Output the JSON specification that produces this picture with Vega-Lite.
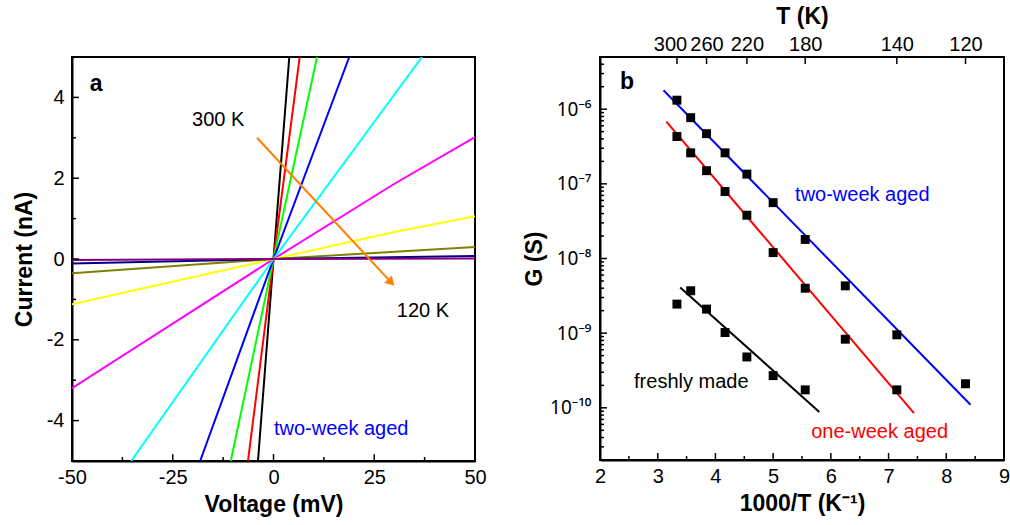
{
  "$schema": "https://vega.github.io/schema/vega-lite/v6.json",
  "padding": {"left": 12, "top": 4, "right": 5, "bottom": 5},
  "background": "white",
  "config": {
    "font": "Liberation Sans",
    "view": {"stroke": "black", "strokeWidth": 2},
    "axis": {
      "grid": false,
      "ticks": false,
      "zindex": 1,
      "labelFlush": false,
      "labelOverlap": false,
      "domainColor": "black",
      "domainWidth": 2,
      "labelFont": "Liberation Sans",
      "labelFontSize": 20,
      "labelColor": "black",
      "titleFont": "Liberation Sans",
      "titleFontSize": 23,
      "titleFontWeight": "bold",
      "titleColor": "black"
    }
  },
  "resolve": {"scale": {"color": "independent"}},
  "bounds": "flush",
  "spacing": 125,
  "datasets": {
    "iv": [
      {"T": "300 K", "V": -3.85, "I": -5}, {"T": "300 K", "V": 0, "I": 0}, {"T": "300 K", "V": 3.92, "I": 5},
      {"T": "280 K", "V": -6.33, "I": -5}, {"T": "280 K", "V": 0, "I": 0}, {"T": "280 K", "V": 6.5, "I": 5},
      {"T": "260 K", "V": -10.6, "I": -5}, {"T": "260 K", "V": 0, "I": 0}, {"T": "260 K", "V": 10.8, "I": 5},
      {"T": "240 K", "V": -18.2, "I": -5}, {"T": "240 K", "V": 0, "I": 0}, {"T": "240 K", "V": 18.8, "I": 5},
      {"T": "220 K", "V": -35.3, "I": -5}, {"T": "220 K", "V": 0, "I": 0}, {"T": "220 K", "V": 36.85, "I": 5},
      {"T": "200 K", "V": -50, "I": -3.2}, {"T": "200 K", "V": 0, "I": 0}, {"T": "200 K", "V": 29.8, "I": 1.85}, {"T": "200 K", "V": 50, "I": 3.02},
      {"T": "180 K", "V": -50, "I": -1.12}, {"T": "180 K", "V": 0, "I": 0}, {"T": "180 K", "V": 30, "I": 0.67}, {"T": "180 K", "V": 50, "I": 1.06},
      {"T": "160 K", "V": -50, "I": -0.35}, {"T": "160 K", "V": 0, "I": 0}, {"T": "160 K", "V": 50, "I": 0.30},
      {"T": "140 K", "V": -50, "I": -0.11}, {"T": "140 K", "V": 0, "I": 0}, {"T": "140 K", "V": 50, "I": 0.074},
      {"T": "120 K", "V": -50, "I": -0.025}, {"T": "120 K", "V": 0, "I": 0}, {"T": "120 K", "V": 50, "I": 0.01}
    ],
    "arrow": [{"V": -4.1, "I": 3.0}, {"V": 29.2, "I": -0.58}],
    "arrowhead": [{"V": 29.2, "I": -0.58}],
    "labelsA": [{"label": "300 K", "V": -20.2, "I": 3.44}, {"label": "120 K", "V": 30.6, "I": -1.29}],
    "labelsAblue": [{"label": "two-week aged", "V": 0.1, "I": -4.2}],
    "panelA": [{"label": "a", "V": -44.0, "I": 4.33}],
    "ticksAx": [
      {"V": -25, "k": "M"}, {"V": 0, "k": "M"}, {"V": 25, "k": "M"},
      {"V": -37.5, "k": "m"}, {"V": -12.5, "k": "m"}, {"V": 12.5, "k": "m"}, {"V": 37.5, "k": "m"}
    ],
    "ticksAy": [
      {"I": -4, "k": "M"}, {"I": -2, "k": "M"}, {"I": 0, "k": "M"}, {"I": 2, "k": "M"}, {"I": 4, "k": "M"},
      {"I": -3, "k": "m"}, {"I": -1, "k": "m"}, {"I": 1, "k": "m"}, {"I": 3, "k": "m"}
    ],
    "ticksBx": [
      {"invT": 3, "k": "M"}, {"invT": 4, "k": "M"}, {"invT": 5, "k": "M"}, {"invT": 6, "k": "M"}, {"invT": 7, "k": "M"}, {"invT": 8, "k": "M"},
      {"invT": 2.5, "k": "m"}, {"invT": 3.5, "k": "m"}, {"invT": 4.5, "k": "m"}, {"invT": 5.5, "k": "m"}, {"invT": 6.5, "k": "m"}, {"invT": 7.5, "k": "m"}, {"invT": 8.5, "k": "m"}
    ],
    "ticksBtop": [
      {"invT": 3.3333333}, {"invT": 3.8461538}, {"invT": 4.5454545}, {"invT": 5.5555556}, {"invT": 7.1428571}, {"invT": 8.3333333}
    ],
    "ticksBy": [
      {"G": 1e-10, "k": "M"}, {"G": 1e-9, "k": "M"}, {"G": 1e-8, "k": "M"}, {"G": 1e-7, "k": "M"}, {"G": 1e-6, "k": "M"},
      {"G": 3e-11, "k": "m"}, {"G": 4e-11, "k": "m"}, {"G": 5e-11, "k": "m"}, {"G": 6e-11, "k": "m"}, {"G": 7e-11, "k": "m"}, {"G": 8e-11, "k": "m"}, {"G": 9e-11, "k": "m"},
      {"G": 2e-10, "k": "m"}, {"G": 3e-10, "k": "m"}, {"G": 4e-10, "k": "m"}, {"G": 5e-10, "k": "m"}, {"G": 6e-10, "k": "m"}, {"G": 7e-10, "k": "m"}, {"G": 8e-10, "k": "m"}, {"G": 9e-10, "k": "m"},
      {"G": 2e-9, "k": "m"}, {"G": 3e-9, "k": "m"}, {"G": 4e-9, "k": "m"}, {"G": 5e-9, "k": "m"}, {"G": 6e-9, "k": "m"}, {"G": 7e-9, "k": "m"}, {"G": 8e-9, "k": "m"}, {"G": 9e-9, "k": "m"},
      {"G": 2e-8, "k": "m"}, {"G": 3e-8, "k": "m"}, {"G": 4e-8, "k": "m"}, {"G": 5e-8, "k": "m"}, {"G": 6e-8, "k": "m"}, {"G": 7e-8, "k": "m"}, {"G": 8e-8, "k": "m"}, {"G": 9e-8, "k": "m"},
      {"G": 2e-7, "k": "m"}, {"G": 3e-7, "k": "m"}, {"G": 4e-7, "k": "m"}, {"G": 5e-7, "k": "m"}, {"G": 6e-7, "k": "m"}, {"G": 7e-7, "k": "m"}, {"G": 8e-7, "k": "m"}, {"G": 9e-7, "k": "m"},
      {"G": 2e-6, "k": "m"}, {"G": 3e-6, "k": "m"}, {"G": 4e-6, "k": "m"}
    ],
    "G": [
      {"sample": "two-week aged", "invT": 3.333, "G": 1.32e-6},
      {"sample": "two-week aged", "invT": 3.571, "G": 7.7e-7},
      {"sample": "two-week aged", "invT": 3.846, "G": 4.7e-7},
      {"sample": "two-week aged", "invT": 4.167, "G": 2.6e-7},
      {"sample": "two-week aged", "invT": 4.545, "G": 1.35e-7},
      {"sample": "two-week aged", "invT": 5.0, "G": 5.6e-8},
      {"sample": "two-week aged", "invT": 5.556, "G": 1.8e-8},
      {"sample": "two-week aged", "invT": 6.25, "G": 4.3e-9},
      {"sample": "two-week aged", "invT": 7.143, "G": 9.5e-10},
      {"sample": "two-week aged", "invT": 8.333, "G": 2.1e-10},
      {"sample": "one-week aged", "invT": 3.333, "G": 4.3e-7},
      {"sample": "one-week aged", "invT": 3.571, "G": 2.6e-7},
      {"sample": "one-week aged", "invT": 3.846, "G": 1.5e-7},
      {"sample": "one-week aged", "invT": 4.167, "G": 7.9e-8},
      {"sample": "one-week aged", "invT": 4.545, "G": 3.8e-8},
      {"sample": "one-week aged", "invT": 5.0, "G": 1.2e-8},
      {"sample": "one-week aged", "invT": 5.556, "G": 4.0e-9},
      {"sample": "one-week aged", "invT": 6.25, "G": 8.3e-10},
      {"sample": "one-week aged", "invT": 7.143, "G": 1.74e-10},
      {"sample": "freshly made", "invT": 3.333, "G": 2.45e-9},
      {"sample": "freshly made", "invT": 3.571, "G": 3.7e-9},
      {"sample": "freshly made", "invT": 3.846, "G": 2.1e-9},
      {"sample": "freshly made", "invT": 4.167, "G": 1.02e-9},
      {"sample": "freshly made", "invT": 4.545, "G": 4.8e-10},
      {"sample": "freshly made", "invT": 5.0, "G": 2.7e-10},
      {"sample": "freshly made", "invT": 5.556, "G": 1.74e-10}
    ],
    "fits": [
      {"sample": "two-week aged", "invT": 3.10, "G": 1.79e-6},
      {"sample": "two-week aged", "invT": 8.42, "G": 1.1e-10},
      {"sample": "one-week aged", "invT": 3.15, "G": 6.8e-7},
      {"sample": "one-week aged", "invT": 7.44, "G": 8.5e-11},
      {"sample": "freshly made", "invT": 3.39, "G": 4.1e-9},
      {"sample": "freshly made", "invT": 5.80, "G": 8.8e-11}
    ],
    "labelsB": [
      {"sample": "two-week aged", "invT": 5.38, "G": 7.0e-8},
      {"sample": "one-week aged", "invT": 5.66, "G": 4.7e-11},
      {"sample": "freshly made", "invT": 2.59, "G": 2.24e-10}
    ],
    "panelB": [{"label": "b", "invT": 2.47, "G": 2.3e-6}]
  },
  "hconcat": [
    {
      "width": 403,
      "height": 404,
      "encoding": {
        "x": {"type": "quantitative", "scale": {"domain": [-50, 50], "nice": false, "zero": false}},
        "y": {"type": "quantitative", "scale": {"domain": [-5, 5], "nice": false, "zero": false}}
      },
      "layer": [
        {
          "data": {"name": "iv"},
          "mark": {"type": "line", "strokeWidth": 2, "clip": true},
          "encoding": {
            "x": {"field": "V", "type": "quantitative",
              "axis": {"values": [-50, -25, 0, 25, 50], "title": "Voltage (mV)", "labelPadding": 6, "titlePadding": 6, "orient": "bottom",
                "labelExpr": "datum.value < 0 ? '-' + (-datum.value) : '' + datum.value"}},
            "y": {"field": "I", "type": "quantitative",
              "axis": {"values": [-4, -2, 0, 2, 4], "title": "Current (nA)", "labelPadding": 8, "titlePadding": 10, "orient": "left",
                "labelExpr": "datum.value < 0 ? '-' + (-datum.value) : '' + datum.value"}},
            "color": {"field": "T", "type": "nominal", "legend": null,
              "scale": {
                "domain": ["120 K", "140 K", "160 K", "180 K", "200 K", "220 K", "240 K", "260 K", "280 K", "300 K"],
                "range": ["#800080", "#000080", "#808000", "#FFFF00", "#FF00FF", "#00FFFF", "#0000FF", "#00FF00", "#FF0000", "#000000"]}}
          }
        },
        {
          "data": {"name": "arrow"},
          "mark": {"type": "line", "color": "#FF8000", "strokeWidth": 2},
          "encoding": {
            "x": {"field": "V", "type": "quantitative"},
            "y": {"field": "I", "type": "quantitative"}
          }
        },
        {
          "data": {"name": "arrowhead"},
          "mark": {"type": "point", "shape": "triangle-right", "filled": true, "color": "#FF8000", "size": 110, "angle": 47, "opacity": 1},
          "encoding": {
            "x": {"field": "V", "type": "quantitative"},
            "y": {"field": "I", "type": "quantitative"}
          }
        },
        {
          "data": {"name": "ticksAx"},
          "transform": [{"filter": "datum.k == 'M'"}],
          "mark": {"type": "rule", "strokeWidth": 1.5, "color": "black"},
          "encoding": {
            "x": {"field": "V", "type": "quantitative"},
            "y": {"datum": -5},
            "y2": {"datum": -4.83}
          }
        },
        {
          "data": {"name": "ticksAx"},
          "transform": [{"filter": "datum.k == 'm'"}],
          "mark": {"type": "rule", "strokeWidth": 1.5, "color": "black"},
          "encoding": {
            "x": {"field": "V", "type": "quantitative"},
            "y": {"datum": -5},
            "y2": {"datum": -4.9}
          }
        },
        {
          "data": {"name": "ticksAy"},
          "transform": [{"filter": "datum.k == 'M'"}],
          "mark": {"type": "rule", "strokeWidth": 1.5, "color": "black"},
          "encoding": {
            "y": {"field": "I", "type": "quantitative"},
            "x": {"datum": -50},
            "x2": {"datum": -48.26}
          }
        },
        {
          "data": {"name": "ticksAy"},
          "transform": [{"filter": "datum.k == 'm'"}],
          "mark": {"type": "rule", "strokeWidth": 1.5, "color": "black"},
          "encoding": {
            "y": {"field": "I", "type": "quantitative"},
            "x": {"datum": -50},
            "x2": {"datum": -49.0}
          }
        },
        {
          "data": {"name": "labelsA"},
          "mark": {"type": "text", "align": "left", "baseline": "middle", "fontSize": 20, "color": "black"},
          "encoding": {
            "x": {"field": "V", "type": "quantitative"},
            "y": {"field": "I", "type": "quantitative"},
            "text": {"field": "label"}
          }
        },
        {
          "data": {"name": "labelsAblue"},
          "mark": {"type": "text", "align": "left", "baseline": "middle", "fontSize": 20, "color": "#0000FF"},
          "encoding": {
            "x": {"field": "V", "type": "quantitative"},
            "y": {"field": "I", "type": "quantitative"},
            "text": {"field": "label"}
          }
        },
        {
          "data": {"name": "panelA"},
          "mark": {"type": "text", "align": "center", "baseline": "middle", "fontSize": 23, "fontWeight": "bold", "color": "black"},
          "encoding": {
            "x": {"field": "V", "type": "quantitative"},
            "y": {"field": "I", "type": "quantitative"},
            "text": {"field": "label"}
          }
        }
      ]
    },
    {
      "width": 404,
      "height": 403,
      "resolve": {"axis": {"x": "independent"}},
      "layer": [
        {
          "data": {"name": "fits"},
          "mark": {"type": "line", "strokeWidth": 2, "clip": true},
          "encoding": {
            "x": {"field": "invT", "type": "quantitative",
              "scale": {"domain": [2, 9], "nice": false, "zero": false},
              "axis": {"values": [2, 3, 4, 5, 6, 7, 8, 9], "title": "1000/T (K⁻¹)", "labelPadding": 6, "titlePadding": 6, "orient": "bottom"}},
            "y": {"field": "G", "type": "quantitative",
              "scale": {"type": "log", "domain": [2e-11, 5e-6], "nice": false},
              "axis": {"values": [1e-10, 1e-9, 1e-8, 1e-7, 1e-6], "title": "G (S)", "labelPadding": 9, "titlePadding": 3, "orient": "left",
                "labelFont": "Noto Sans", "labelFontSize": 19,
                "labelExpr": "datum.value < 3e-10 ? '10⁻¹⁰' : datum.value < 3e-9 ? '10⁻⁹' : datum.value < 3e-8 ? '10⁻⁸' : datum.value < 3e-7 ? '10⁻⁷' : '10⁻⁶'"}},
            "color": {"field": "sample", "type": "nominal", "legend": null,
              "scale": {"domain": ["two-week aged", "one-week aged", "freshly made"], "range": ["#0000FF", "#FF0000", "#000000"]}}
          }
        },
        {
          "data": {"name": "G"},
          "mark": {"type": "point", "shape": "square", "filled": true, "color": "black", "size": 80, "opacity": 1},
          "encoding": {
            "x": {"field": "invT", "type": "quantitative", "axis": null},
            "y": {"field": "G", "type": "quantitative"}
          }
        },
        {
          "data": {"name": "ticksBx"},
          "transform": [{"filter": "datum.k == 'M'"}],
          "mark": {"type": "rule", "strokeWidth": 1.5, "color": "black"},
          "encoding": {
            "x": {"field": "invT", "type": "quantitative", "axis": null},
            "y": {"datum": 2e-11},
            "y2": {"datum": 2.48e-11}
          }
        },
        {
          "data": {"name": "ticksBx"},
          "transform": [{"filter": "datum.k == 'm'"}],
          "mark": {"type": "rule", "strokeWidth": 1.5, "color": "black"},
          "encoding": {
            "x": {"field": "invT", "type": "quantitative", "axis": null},
            "y": {"datum": 2e-11},
            "y2": {"datum": 2.26e-11}
          }
        },
        {
          "data": {"name": "ticksBtop"},
          "mark": {"type": "rule", "strokeWidth": 1.5, "color": "black"},
          "encoding": {
            "x": {"field": "invT", "type": "quantitative", "axis": null},
            "y": {"datum": 5e-6},
            "y2": {"datum": 4.03e-6}
          }
        },
        {
          "data": {"name": "ticksBy"},
          "transform": [{"filter": "datum.k == 'M'"}],
          "mark": {"type": "rule", "strokeWidth": 1.5, "color": "black"},
          "encoding": {
            "y": {"field": "G", "type": "quantitative"},
            "x": {"datum": 2, "axis": null},
            "x2": {"datum": 2.121}
          }
        },
        {
          "data": {"name": "ticksBy"},
          "transform": [{"filter": "datum.k == 'm'"}],
          "mark": {"type": "rule", "strokeWidth": 1.5, "color": "black"},
          "encoding": {
            "y": {"field": "G", "type": "quantitative"},
            "x": {"datum": 2, "axis": null},
            "x2": {"datum": 2.069}
          }
        },
        {
          "data": {"name": "labelsB"},
          "mark": {"type": "text", "align": "left", "baseline": "middle", "fontSize": 20},
          "encoding": {
            "x": {"field": "invT", "type": "quantitative", "axis": null},
            "y": {"field": "G", "type": "quantitative"},
            "text": {"field": "sample"},
            "color": {"field": "sample", "type": "nominal", "legend": null}
          }
        },
        {
          "data": {"name": "panelB"},
          "mark": {"type": "text", "align": "center", "baseline": "middle", "fontSize": 23, "fontWeight": "bold", "color": "black"},
          "encoding": {
            "x": {"field": "invT", "type": "quantitative",
              "scale": {"domain": [2, 9], "nice": false, "zero": false},
              "axis": {"orient": "top", "values": [3.3333333, 3.8461538, 4.5454545, 5.5555556, 7.1428571, 8.3333333],
                "labelExpr": "format(1000 / datum.value, '.0f')", "title": "T (K)", "labelPadding": 3, "titlePadding": 6, "domain": false,
                "labelOffset": {"condition": {"test": "datum.value < 3.5", "value": -7}, "value": 0}}},
            "y": {"field": "G", "type": "quantitative"},
            "text": {"field": "label"}
          }
        }
      ]
    }
  ]
}
